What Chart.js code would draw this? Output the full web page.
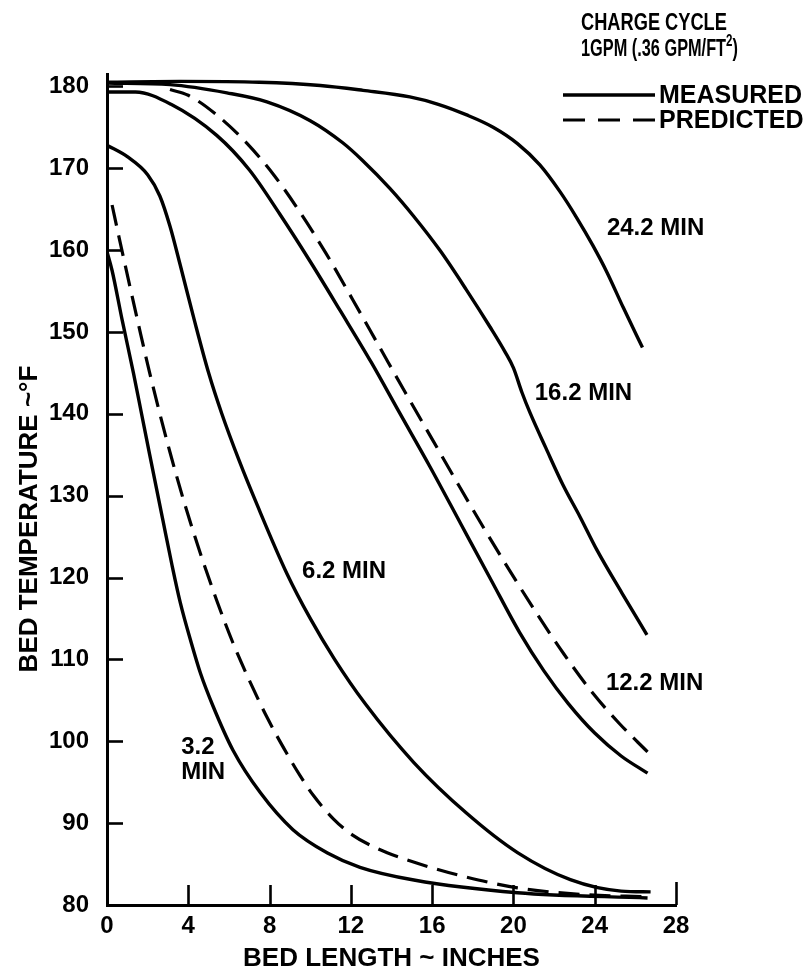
<!DOCTYPE html>
<html>
<head>
<meta charset="utf-8">
<script src="https://cdn.jsdelivr.net/npm/chart.js@4.4.1/dist/chart.umd.min.js"></script>
<style>
  html, body { margin: 0; padding: 0; background: #fff; }
  #wrap { width: 811px; height: 976px; }
</style>
</head>
<body>
<div id="wrap"><canvas id="chart" width="811" height="976"></canvas></div>
<script>
// Axis ticks
const LENGTH_TICKS = [0, 4, 8, 12, 16, 20, 24, 28];
const TEMP_TICKS = [80, 90, 100, 110, 120, 130, 140, 150, 160, 170, 180];

// [bed length (in), bed temperature (°F)] along each curve
const measured24 = [[0,180.5],[3.6,180.6],[7.5,180.5],[10.5,180.1],[12.6,179.5],[14.9,178.7],[16.3,177.8],[17.7,176.5],[19.0,175.0],[20.2,173.0],[21.3,170.4],[22.3,167.1],[23.1,164.0],[23.9,160.6],[24.6,157.3],[25.4,153.0],[26.35,148.1]];
const measured16 = [[0,180.4],[3.1,180.2],[5.9,179.2],[7.87,178.1],[10.0,175.8],[11.6,173.1],[12.55,171.0],[13.93,167.5],[15.1,164.1],[16.4,159.9],[17.67,155.2],[18.85,150.6],[19.6,147.5],[20.0,145.6],[20.42,142.6],[20.82,140.1],[21.6,135.8],[22.44,131.3],[23.28,127.4],[24.1,123.4],[25.34,118.1],[26.57,113.0]];
const measured12 = [[0,179.3],[1.4,179.3],[3.15,177.8],[5.4,174.0],[7.0,169.8],[8.5,164.4],[10.0,158.6],[11.5,152.5],[13.0,146.3],[14.4,140.1],[15.9,133.5],[17.4,126.6],[18.9,119.7],[20.3,113.3],[21.5,108.6],[22.7,104.6],[24.0,101.0],[25.3,98.2],[26.6,96.1]];
const predicted12 = [[3.1,179.6],[4.0,178.9],[5.4,176.5],[6.9,173.0],[8.2,169.2],[9.5,164.6],[10.8,159.5],[12.1,153.9],[13.4,148.2],[14.7,142.5],[16.0,136.9],[17.3,131.3],[18.6,125.8],[19.9,120.5],[21.2,115.4],[22.5,110.6],[23.8,106.2],[25.2,102.2],[26.6,98.7]];
const measured6 = [[0,172.8],[1.0,171.4],[2.0,169.2],[2.6,166.6],[3.1,162.9],[3.6,158.2],[4.3,151.4],[5.0,145.0],[5.65,140.0],[6.5,134.3],[7.4,128.8],[8.85,120.5],[10.0,115.0],[11.2,110.0],[12.7,104.6],[15.1,97.4],[17.7,91.2],[20.2,86.4],[22.8,83.1],[25.3,81.7],[26.75,81.6]];
const measured3 = [[0,159.8],[0.25,157.5],[0.75,151.4],[1.3,145.0],[1.7,140.0],[2.1,135.0],[2.75,127.0],[3.2,121.5],[3.6,117.0],[4.15,112.0],[4.6,108.3],[5.2,104.4],[6.2,98.9],[7.55,93.7],[9.15,89.2],[10.85,86.35],[12.45,84.6],[15.1,83.05],[20.2,81.5],[26.6,80.85]];
const predicted3 = [[0.25,165.5],[0.65,160.9],[1.15,155.3],[1.65,149.8],[2.1,145.0],[2.6,140.0],[3.1,135.3],[3.75,129.6],[4.6,122.9],[5.4,117.2],[6.2,112.0],[7.05,107.2],[7.9,102.8],[8.85,98.5],[9.5,95.8],[10.15,93.4],[11.15,90.5],[12.05,88.6],[13.3,86.9],[14.65,85.6],[16.2,84.4],[17.7,83.4],[20.2,82.1],[23.3,81.3],[26.6,81.0]];

// Curve captions, anchored in data coordinates (left edge, middle of line)
const CURVE_LABELS = [
  { lines: ['24.2 MIN'], x: 24.6, y: 162.7 },
  { lines: ['16.2 MIN'], x: 21.05, y: 142.5 },
  { lines: ['6.2 MIN'], x: 9.6, y: 120.7 },
  { lines: ['12.2 MIN'], x: 24.55, y: 107.1 },
  { lines: ['3.2', 'MIN'], x: 3.65, y: 99.3 }
];

const FONT = "'Liberation Sans', Arial, Helvetica, sans-serif";
const INK = '#000';
const DASH = [21, 10];

const toPoints = arr => arr.map(([x, y]) => ({ x, y }));
const solidStyle = { borderColor: INK, borderWidth: 3.4, borderDash: [], pointRadius: 0, fill: false, cubicInterpolationMode: 'monotone' };
const dashedStyle = { ...solidStyle, borderWidth: 3.2, borderDash: DASH };

// Inward tick marks on both axes
const innerTicks = {
  id: 'innerTicks',
  afterDraw(chart) {
    const { ctx, scales: { x, y } } = chart;
    ctx.save();
    ctx.strokeStyle = INK;
    ctx.lineWidth = 2.6;
    TEMP_TICKS.forEach(v => {
      if (v === y.min) return;
      const py = Math.round(y.getPixelForValue(v)) + 0.5;
      ctx.beginPath(); ctx.moveTo(x.left, py); ctx.lineTo(x.left + 16, py); ctx.stroke();
    });
    LENGTH_TICKS.forEach(v => {
      if (v === x.min) return;
      const px = Math.round(x.getPixelForValue(v)) + 0.5;
      ctx.beginPath(); ctx.moveTo(px, y.bottom); ctx.lineTo(px, y.bottom - (v === x.max ? 23 : 20)); ctx.stroke();
    });
    ctx.restore();
  }
};

// Text runs drawn one after another, with optional raised (superscript) runs
function drawRuns(ctx, runs, x, y, squeeze) {
  ctx.save();
  ctx.translate(x, y);
  ctx.scale(squeeze, 1);
  let cx = 0;
  runs.forEach(r => {
    ctx.font = `bold ${r.size}px ${FONT}`;
    ctx.fillText(r.text, cx, r.rise || 0);
    cx += ctx.measureText(r.text).width;
  });
  ctx.restore();
}

// Heading, vertical axis title, legend and curve captions
const annotations = {
  id: 'annotations',
  afterDraw(chart) {
    const { ctx, scales: { x, y } } = chart;
    ctx.save();
    ctx.fillStyle = INK;
    ctx.textBaseline = 'middle';
    ctx.textAlign = 'left';

    // heading
    drawRuns(ctx, [{ text: 'CHARGE CYCLE', size: 24 }], 581, 23, 0.76);
    drawRuns(ctx, [
      { text: '1GPM (.36 GPM/FT', size: 24 },
      { text: '2', size: 17, rise: -8 },
      { text: ')', size: 24 }
    ], 581, 49, 0.68);

    // vertical axis title
    ctx.save();
    ctx.translate(30, 519);
    ctx.rotate(-Math.PI / 2);
    ctx.textAlign = 'center';
    ctx.font = `bold 26px ${FONT}`;
    ctx.fillText('BED TEMPERATURE ~°F', 0, 0);
    ctx.restore();

    // legend built from the dataset line styles
    const entries = [
      { text: 'MEASURED', ds: chart.data.datasets[0], dash: [] },
      { text: 'PREDICTED', ds: chart.data.datasets[3], dash: [22, 13] }
    ];
    entries.forEach((e, i) => {
      const ly = 95 + i * 25;
      ctx.strokeStyle = e.ds.borderColor;
      ctx.lineWidth = e.ds.borderWidth;
      ctx.setLineDash(e.dash);
      ctx.beginPath(); ctx.moveTo(563, ly); ctx.lineTo(655, ly); ctx.stroke();
      ctx.setLineDash([]);
      ctx.font = `bold 25px ${FONT}`;
      ctx.fillText(e.text, 659, ly + 1);
    });

    // curve captions
    ctx.font = `bold 24px ${FONT}`;
    CURVE_LABELS.forEach(l => {
      const px = x.getPixelForValue(l.x);
      const py = y.getPixelForValue(l.y);
      l.lines.forEach((t, k) => ctx.fillText(t, px, py + k * 25));
    });
    ctx.restore();
  }
};

const cfg = {
  type: 'line',
  data: {
    datasets: [
      { label: '24.2 MIN measured', data: toPoints(measured24), ...solidStyle },
      { label: '16.2 MIN measured', data: toPoints(measured16), ...solidStyle },
      { label: '12.2 MIN measured', data: toPoints(measured12), ...solidStyle },
      { label: '12.2 MIN predicted', data: toPoints(predicted12), ...dashedStyle },
      { label: '6.2 MIN measured', data: toPoints(measured6), ...solidStyle },
      { label: '3.2 MIN measured', data: toPoints(measured3), ...solidStyle },
      { label: '3.2 MIN predicted', data: toPoints(predicted3), ...dashedStyle }
    ]
  },
  options: {
    responsive: false,
    animation: false,
    devicePixelRatio: 1,
    layout: { padding: { top: 74, right: 135, bottom: 0, left: 0 } },
    plugins: { legend: { display: false }, tooltip: { enabled: false } },
    scales: {
      x: {
        type: 'linear',
        min: 0, max: 28,
        afterBuildTicks: s => { s.ticks = LENGTH_TICKS.map(v => ({ value: v })); },
        afterFit: s => { s.height = 71; },
        grid: { display: false, drawTicks: false },
        border: { display: true, color: INK, width: 3 },
        ticks: { color: INK, padding: 7, maxRotation: 0, font: { family: FONT, size: 24, weight: 'bold' } },
        title: { display: true, text: 'BED LENGTH ~ INCHES', color: INK, padding: { top: 0, bottom: 2 }, font: { family: FONT, size: 26, weight: 'bold' } }
      },
      y: {
        type: 'linear',
        min: 80, max: 181.5,
        afterBuildTicks: s => { s.ticks = TEMP_TICKS.map(v => ({ value: v })); },
        afterFit: s => { s.width = 107; },
        grid: { display: false, drawTicks: false },
        border: { display: true, color: INK, width: 3 },
        ticks: { color: INK, padding: 18, font: { family: FONT, size: 24, weight: 'bold' } }
      }
    }
  },
  plugins: [innerTicks, annotations]
};

new Chart(document.getElementById('chart'), cfg);
</script>
</body>
</html>
